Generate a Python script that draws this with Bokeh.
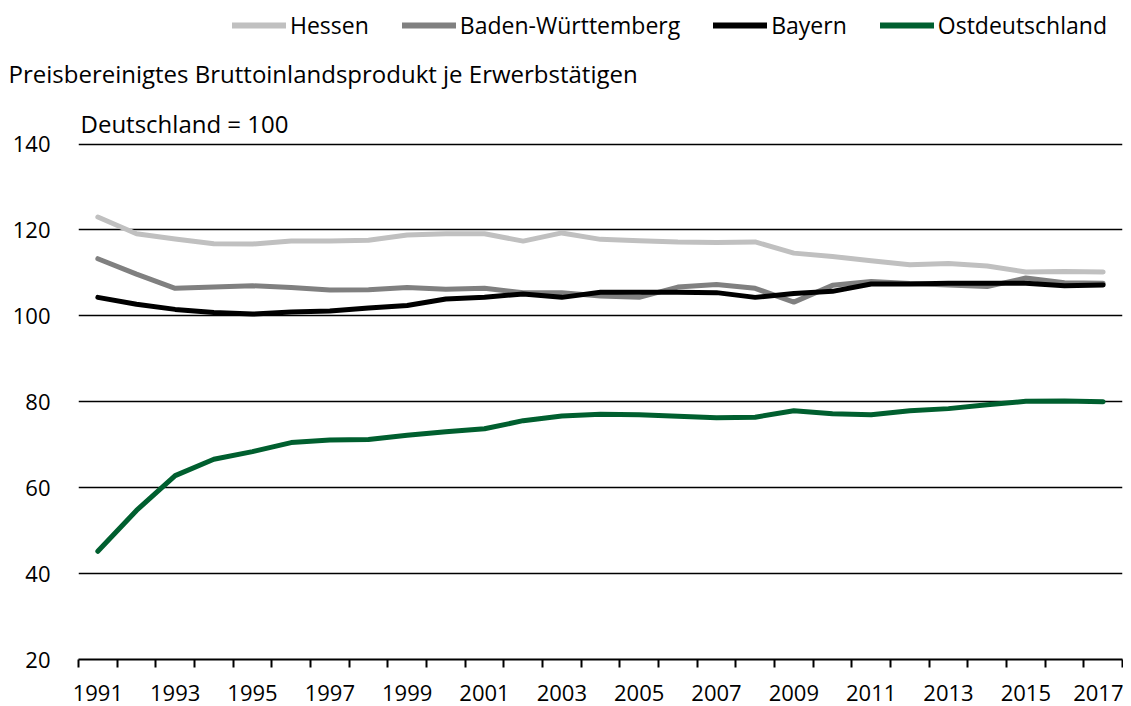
from bokeh.plotting import figure
from bokeh.layouts import column
from bokeh.models import (FixedTicker, Legend, LegendItem, Title, ColumnDataSource, Range1d)
from bokeh.embed import file_html
from bokeh.resources import INLINE

years = list(range(1991, 2018))
hessen = [123.0, 119.1, 117.9, 116.8, 116.7, 117.4, 117.4, 117.6, 118.8, 119.1, 119.1, 117.4, 119.3, 117.8,
          117.5, 117.2, 117.1, 117.2, 114.6, 113.8, 112.8, 111.9, 112.2, 111.6, 110.2, 110.3, 110.2]
bw = [113.3, 109.7, 106.4, 106.7, 107.0, 106.6, 106.0, 106.1, 106.6, 106.2, 106.4, 105.4, 105.4, 104.6,
      104.3, 106.7, 107.3, 106.4, 103.2, 107.1, 108.0, 107.5, 107.2, 106.8, 108.8, 107.7, 107.6]
bayern = [104.3, 102.7, 101.5, 100.8, 100.4, 100.9, 101.1, 101.8, 102.4, 103.9, 104.3, 105.1, 104.3, 105.5,
          105.5, 105.5, 105.4, 104.3, 105.2, 105.7, 107.4, 107.4, 107.6, 107.6, 107.6, 107.0, 107.2]
ost = [45.2, 54.7, 62.8, 66.6, 68.4, 70.5, 71.1, 71.2, 72.2, 73.0, 73.7, 75.6, 76.7, 77.1,
       77.0, 76.6, 76.3, 76.4, 77.9, 77.2, 77.0, 77.9, 78.4, 79.3, 80.1, 80.2, 80.0]
series_names = ["Hessen", "Baden-Württemberg", "Bayern", "Ostdeutschland"]
series_colors = ["#c0c0c0", "#808080", "#000000", "#005f2f"]
y_ticks = [20, 40, 60, 80, 100, 120, 140]
x_label_years = [y for y in years if y % 2 == 1]
title_text = "Preisbereinigtes Bruttoinlandsprodukt je Erwerbstätigen"
sub_text = "Deutschland = 100"

FONT = "Open Sans"
FS = "22px"      # tick labels
FS_T = "24px"    # titles
FS_L = "23px"    # legend
W = 1123
LEG_H = 42

# ---- main chart ----
p = figure(width=W, height=706 - LEG_H, output_backend="svg", toolbar_location=None,
           x_range=(years[0] - 0.5, years[-1] + 0.5), y_range=(20, 140.35),
           min_border_left=78, min_border_right=1, min_border_top=92, min_border_bottom=47)
p.outline_line_color = None
p.background_fill_color = "white"
p.border_fill_color = "white"

p.yaxis.ticker = FixedTicker(ticks=y_ticks)
p.yaxis.axis_line_color = None
p.yaxis.major_tick_line_color = None
p.yaxis.minor_tick_line_color = None
p.yaxis.major_label_standoff = 22
p.yaxis.major_label_text_font = FONT
p.yaxis.major_label_text_font_size = FS
p.yaxis.major_label_text_color = "black"

bounds = [y - 0.5 for y in years] + [years[-1] + 0.5]
p.xaxis.ticker = FixedTicker(ticks=x_label_years, minor_ticks=bounds)
p.xaxis.axis_line_color = "black"
p.xaxis.axis_line_width = 2
p.xaxis.major_tick_line_color = None
p.xaxis.minor_tick_line_color = "black"
p.xaxis.minor_tick_line_width = 2
p.xaxis.minor_tick_in = 0
p.xaxis.minor_tick_out = 8
p.xaxis.major_label_standoff = 17
p.xaxis.major_label_text_font = FONT
p.xaxis.major_label_text_font_size = FS
p.xaxis.major_label_text_color = "black"

p.xgrid.grid_line_color = None
p.ygrid.ticker = FixedTicker(ticks=[t for t in y_ticks if t > 20])
p.ygrid.grid_line_color = "black"
p.ygrid.grid_line_width = 1.5

for name, vals, col in zip(series_names, [hessen, bw, bayern, ost], series_colors):
    src = ColumnDataSource(dict(x=years, y=vals))
    p.line("x", "y", source=src, line_color=col, line_width=5, line_cap="round", line_join="round")

p.add_layout(Title(text=sub_text, align="left", offset=2, standoff=6,
                   text_font=FONT, text_font_size=FS_T, text_font_style="normal", text_color="black"), "above")
p.add_layout(Title(text=title_text, align="left", offset=-70, standoff=24,
                   text_font=FONT, text_font_size=FS_T, text_font_style="normal", text_color="black"), "above")

# ---- legend strip (same series, drawn out of view; only the legend shows) ----
top = figure(width=W, height=LEG_H, output_backend="svg", toolbar_location=None,
             x_range=p.x_range, y_range=Range1d(0, 1),
             x_axis_type=None, y_axis_type=None,
             min_border_left=78, min_border_right=1, min_border_top=0, min_border_bottom=0)
top.outline_line_color = None
top.xgrid.visible = False
top.ygrid.visible = False
top.border_fill_color = "white"

leg_renderers = []
for vals, col in zip([hessen, bw, bayern, ost], series_colors):
    leg_renderers.append(top.line(x=years, y=vals, line_color=col, line_width=6, line_cap="round"))

legend = Legend(items=[LegendItem(label=n, renderers=[r]) for n, r in zip(series_names, leg_renderers)],
                orientation="horizontal", location=(154, LEG_H - 41),
                glyph_width=54, glyph_height=30, label_height=30, label_standoff=4, spacing=33,
                padding=0, margin=0, border_line_color=None, background_fill_alpha=0,
                label_text_font=FONT, label_text_font_size=FS_L, label_text_color="black")
top.add_layout(legend, "center")

layout = column(top, p, spacing=0)
open("out.html", "w").write(file_html(layout, INLINE))
